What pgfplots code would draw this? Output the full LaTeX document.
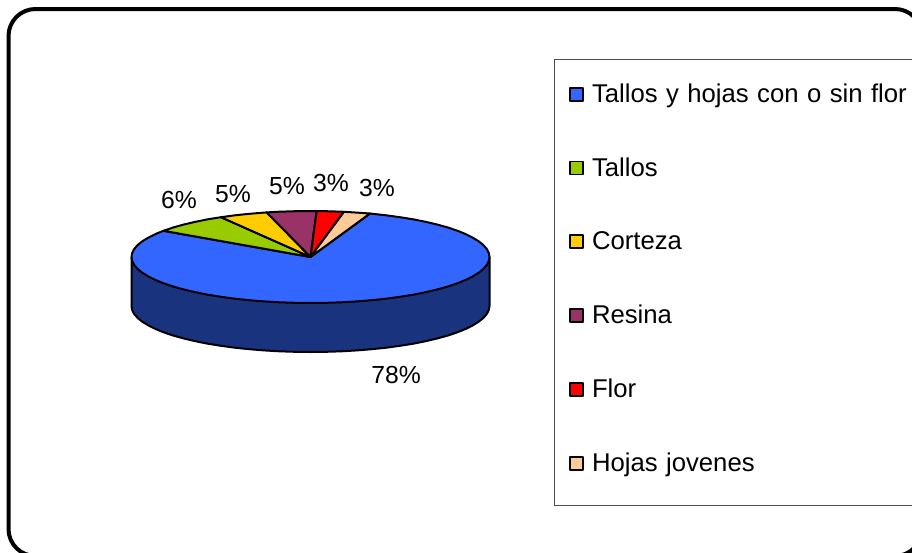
\documentclass[border=0pt]{standalone}
\usepackage{fontspec}
\setmainfont{Liberation Sans}[WordSpace=1.18]
\usepackage{pgfplots}
\pgfplotsset{compat=1.18}

\definecolor{cBlue}{HTML}{3366FF}
\definecolor{cSide}{HTML}{19337F}
\definecolor{cGreen}{HTML}{99CC00}
\definecolor{cOrange}{HTML}{FFCC00}
\definecolor{cPurple}{HTML}{993366}
\definecolor{cRed}{HTML}{FF0000}
\definecolor{cPeach}{HTML}{FFCC99}

\begin{document}
\begin{tikzpicture}[x=1pt,y=1pt]
\useasboundingbox (0,0) rectangle (912,552);
\begin{axis}[
    at={(0,0)}, anchor=south west,
    scale only axis,
    width=912pt, height=552pt,
    xmin=0, xmax=912, ymin=0, ymax=552,
    y dir=reverse,
    axis lines=none,
    clip=false,
    legend image code/.code={\path[draw=none,fill=none] (0pt,0pt) -- (20pt,0pt);\draw[#1,line width=1.6pt] (0pt,-6.5pt) rectangle (13pt,6.5pt);},
    legend style={
        at={(axis cs:554,59)}, anchor=north west,
        draw=none, fill=none,
        font=\fontsize{25.7}{28}\selectfont,
        inner xsep=15pt, inner ysep=23pt,
        row sep=49.8pt,
        cells={anchor=west},
    },
    every axis plot/.append style={draw=black, line width=2pt, line join=round},
]
% outer frame and legend box
\draw[black, line width=4pt, rounded corners=27pt]
    (axis cs:8.5,556) -- (axis cs:8.5,9) -- (axis cs:922,9) -- (axis cs:922,556) -- cycle;
\draw[black!70, line width=1pt] (axis cs:554,59) rectangle (axis cs:930,505);

% side of the pie
\addplot[fill=cSide, forget plot] coordinates {
    (489.5,257) (489.5,306) (488.8,310) (486.8,314) (483.4,317.9) (478.7,321.7)
    (472.7,325.4) (465.5,329) (457.1,332.4) (447.6,335.6) (437.1,338.5)
    (425.6,341.2) (413.2,343.7) (400,345.8) (386.1,347.7) (371.7,349.2)
    (356.8,350.4) (341.6,351.3) (326.1,351.8) (310.5,352) (294.9,351.8)
    (279.4,351.3) (264.2,350.4) (249.3,349.2) (234.9,347.7) (221,345.8)
    (207.8,343.7) (195.4,341.2) (183.9,338.5) (173.4,335.6) (163.9,332.4)
    (155.5,329) (148.3,325.4) (142.3,321.7) (137.6,317.9) (134.2,314)
    (132.2,310) (131.5,306) (131.5,257)
} -- cycle;

% top: 78, 6, 5, 5, 3, 3 percent
\addplot[fill=cBlue] coordinates {
    (310.5,257) (370,213.5) (386.1,215.3) (400,217.2) (413.2,219.3) (425.6,221.8)
    (437.1,224.5) (447.6,227.4) (457.1,230.6) (465.5,234) (472.7,237.6)
    (478.7,241.3) (483.4,245.1) (486.8,249) (488.8,253) (489.5,257)
    (488.8,261) (486.8,265) (483.4,268.9) (478.7,272.7) (472.7,276.4)
    (465.5,280) (457.1,283.4) (447.6,286.6) (437.1,289.5) (425.6,292.2)
    (413.2,294.7) (400,296.8) (386.1,298.7) (371.7,300.2) (356.8,301.4)
    (341.6,302.3) (326.1,302.8) (310.5,303) (294.9,302.8) (279.4,302.3)
    (264.2,301.4) (249.3,300.2) (234.9,298.7) (221,296.8) (207.8,294.7)
    (195.4,292.2) (183.9,289.5) (173.4,286.6) (163.9,283.4) (155.5,280)
    (148.3,276.4) (142.3,272.7) (137.6,268.9) (134.2,265) (132.2,261)
    (131.5,257) (132.2,253) (134.2,249) (137.6,245.1) (142.3,241.3)
    (148.3,237.6) (155.5,234) (163.5,230.8)
} -- cycle;
\addlegendentry{Tallos y hojas con o sin flor}
\addplot[fill=cGreen] coordinates {
    (310.5,257) (163.5,230.8) (173.4,227.4) (183.9,224.5) (195.4,221.8)
    (207.8,219.3) (221,217.2)
} -- cycle;
\addlegendentry{Tallos}
\addplot[fill=cOrange] coordinates {
    (310.5,257) (221,217.2) (234.9,215.3) (249.3,213.8) (266.7,212.4)
} -- cycle;
\addlegendentry{Corteza}
\addplot[fill=cPurple] coordinates {
    (310.5,257) (266.7,212.4) (279.4,211.7) (294.9,211.2) (310.5,211) (316.7,211)
} -- cycle;
\addlegendentry{Resina}
\addplot[fill=cRed] coordinates {
    (310.5,257) (316.7,211) (326.1,211.2) (341.6,211.7) (344,211.8)
} -- cycle;
\addlegendentry{Flor}
\addplot[fill=cPeach] coordinates {
    (310.5,257) (344,211.8) (356.8,212.6) (370,213.5)
} -- cycle;
\addlegendentry{Hojas jovenes}

% percentage labels
\addplot[draw=none, forget plot, mark=none, point meta=explicit symbolic,
    nodes near coords={\pgfplotspointmeta\%},
    nodes near coords style={anchor=center, inner sep=0pt, text=black,
        font=\fontsize{24.7}{28}\selectfont}]
    table[meta=pct] {
    x   y   pct
    396 375 78
    179 200 6
    233 194 5
    287 186 5
    331 183 3
    377 188 3
};
\end{axis}
\end{tikzpicture}
\end{document}
